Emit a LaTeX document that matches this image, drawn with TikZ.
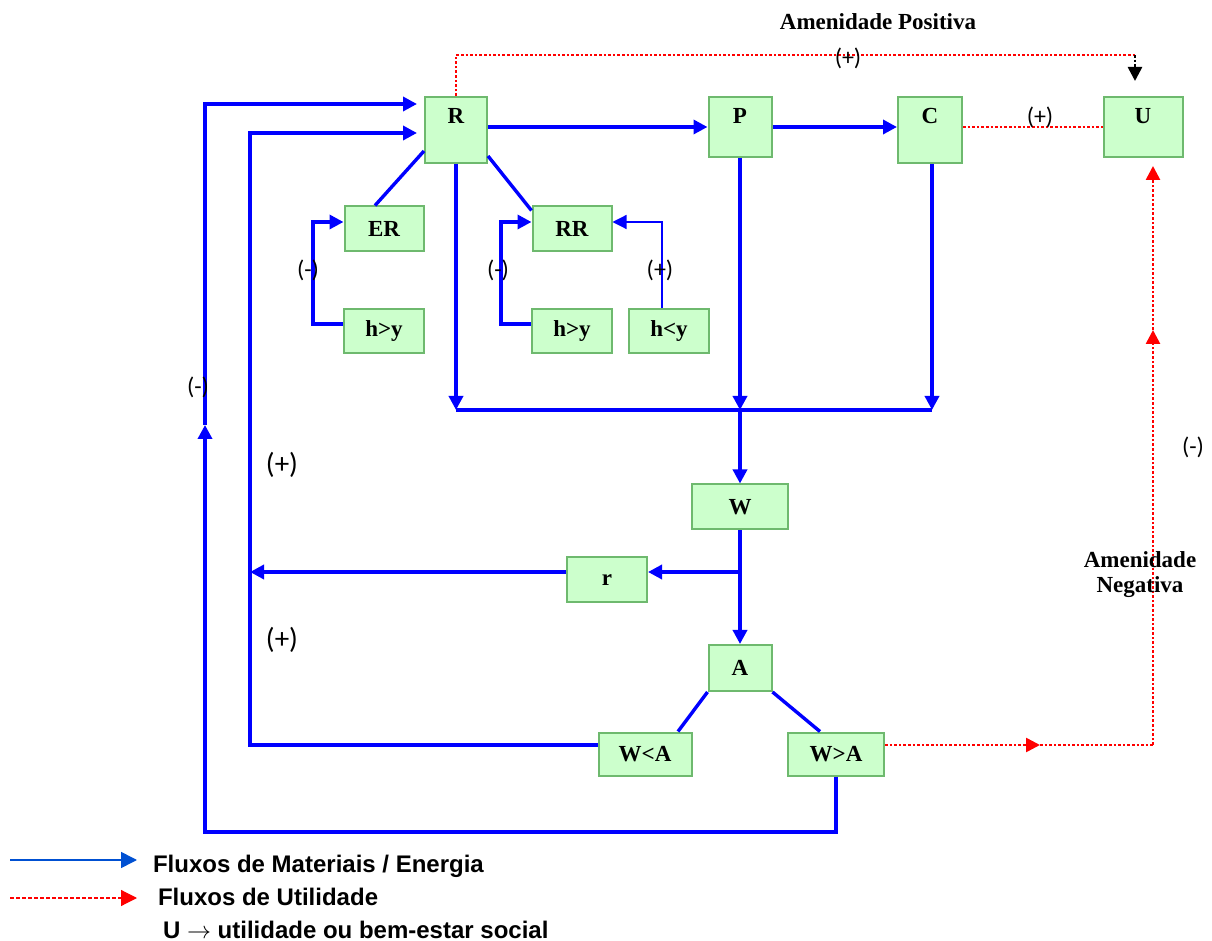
\documentclass[tikz,border=0pt]{standalone}
\usepackage{fontspec}
\setmainfont{Liberation Serif}
\newfontfamily\legendfont{Liberation Sans}
\newfontfamily\signfont{Carlito}
\usepackage{tikz}
\usetikzlibrary{arrows.meta}
\definecolor{boxgreen}{RGB}{204,255,204}
\definecolor{boxline}{RGB}{110,185,110}
\definecolor{legblue}{RGB}{0,80,210}

\begin{document}
\begin{tikzpicture}
  [x=0.5pt,y=-0.5pt,
   every node/.style={font=\bfseries\fontsize{11.5}{13}\selectfont},
   box/.style={draw=boxline,fill=boxgreen,line width=1pt,inner sep=0pt},
   flow/.style={draw=blue,line width=1.7pt},
   tip/.style={-{Triangle[length=7pt,width=7pt]}},
   util/.style={draw=red,densely dotted,line width=1.3pt},
   sign/.style={font=\signfont\fontsize{12}{14}\selectfont},
   bigsign/.style={font=\signfont\fontsize{14.5}{16}\selectfont}]
  \useasboundingbox (0,0) rectangle (1212,941);

  \node[box,minimum width=31pt,minimum height=33pt,text height=8pt,text depth=14pt] (R) at (456,130) {R};
  \node[box,minimum width=31.5pt,minimum height=30pt,text height=8pt,text depth=11pt] (P) at (740,127) {P};
  \node[box,minimum width=32pt,minimum height=33pt,text height=8pt,text depth=14pt] (C) at (930,130) {C};
  \node[box,minimum width=39.5pt,minimum height=30pt,text height=8pt,text depth=11pt] (U) at (1143,127) {U};
  \node[box,minimum width=39.5pt,minimum height=22.5pt] (ER) at (384,229) {ER};
  \node[box,minimum width=39.5pt,minimum height=22.5pt] (RR) at (572,229) {RR};
  \node[box,minimum width=40pt,minimum height=22pt] (hy1) at (384,331) {h>y};
  \node[box,minimum width=40pt,minimum height=22pt] (hy2) at (572,331) {h>y};
  \node[box,minimum width=40pt,minimum height=22pt] (hly) at (669,331) {h<y};
  \node[box,minimum width=48pt,minimum height=22.5pt] (W) at (740,507) {W};
  \node[box,minimum width=40pt,minimum height=22.5pt] (r) at (607,580) {r};
  \node[box,minimum width=31.5pt,minimum height=23pt] (A) at (740,668) {A};
  \node[box,minimum width=46.5pt,minimum height=21.5pt] (WlA) at (645,754) {W<A};
  \node[box,minimum width=48pt,minimum height=21.5pt] (WgA) at (836,754) {W>A};

  \coordinate (ap) at (1135,55);
  \coordinate (jn) at (740,410);
  \coordinate (jr) at (740,572);
  \coordinate (il) at (250,572);
  \coordinate (ob) at (205,832);
  \coordinate (om) at (205,425);
  \coordinate (ot) at (205,104);
  \coordinate (nm) at (1040,745);
  \coordinate (nr) at (1153,745);
  \coordinate (nu) at (1153,330);

  % materials / energy
  \draw[flow,tip] (R.east |- P) -- (P.west);
  \draw[flow,tip] (P.east) -- (C.west |- P);
  \draw[flow] ([yshift=6.5pt]R.south west) -- ([xshift=-4.5pt]ER.north);
  \draw[flow] ([yshift=4pt]R.south east) -- ([yshift=-2.5pt]RR.north west);
  \draw[flow,tip] (R.south) -- (R.south |- jn);
  \draw[flow,tip] (P.south) -- (jn);
  \draw[flow,tip] ([xshift=1pt]C.south) -- ([xshift=1pt]C.south |- jn);
  \draw[flow] (R.south |- jn) -- ([xshift=1pt]C.south |- jn);
  \draw[flow,tip] (jn) -- (W.north);
  \draw[flow,tip] ([yshift=3.5pt]hy1.west) -- ++(-30,0) |- ([yshift=3.5pt]ER.west);
  \draw[flow,tip] ([yshift=3.5pt]hy2.west) -- ++(-30,0) |- ([yshift=3.5pt]RR.west);
  \draw[blue,line width=0.6pt,tip] ([xshift=-3.5pt]hly.north) |- ([yshift=3.5pt]RR.east);
  \draw[flow,tip] (W.south) -- (A.north);
  \draw[flow,tip] (jr) -- ([yshift=4pt]r.east);
  \draw[flow,tip] ([yshift=4pt]r.west) -- (il);
  \draw[flow,tip] ([yshift=4.5pt]WlA.west) -| (il) |- ([xshift=-3.5pt,yshift=-1.5pt]R.west);
  \draw[flow] (A.south west) -- ([xshift=16.5pt]WlA.north);
  \draw[flow] (A.south east) -- ([xshift=-8pt]WgA.north);
  \draw[flow,tip] (WgA.south) |- (ob) -- (om);
  \draw[flow,tip] (om) -- (ot) -- ([xshift=-3.5pt,yshift=13pt]R.west);

  % utility
  \draw[util] (R.north) |- (ap);
  \draw[black,densely dotted,line width=1.3pt,tip] (ap) -- ([yshift=7.5pt]U.north -| ap);
  \draw[util] (C.east |- U) -- (U.west);
  \draw[util,tip] ([yshift=4.5pt]WgA.east) -- (nm);
  \draw[util] (nm) -- (nr);
  \draw[util,tip] (nr) -- (nu);
  \draw[util,tip] (nu) -- ([xshift=5pt,yshift=-4pt]U.south);

  % signs and captions
  \node (apos) at (878,22) {Amenidade Positiva};
  \node[align=center,font=\bfseries\fontsize{11.5}{12.5}\selectfont] (aneg) at (1140,575) {Amenidade\\Negativa};
  \node[sign] (s1) at (848,58) {(+)};
  \node[sign] (s2) at (1040,117) {(+)};
  \node[sign] (s3) at (308,270) {(-)};
  \node[sign] (s4) at (498,270) {(-)};
  \node[sign] (s5) at (660,270) {(+)};
  \node[sign] (s6) at (198,387) {(-)};
  \node[bigsign] (s7) at (282,465) {(+)};
  \node[bigsign] (s8) at (282,640) {(+)};
  \node[sign] (s9) at (1193,447) {(-)};

  % legend
  \coordinate (lb1) at (10,860);
  \coordinate (lb2) at (137,860);
  \coordinate (lr1) at (10,898);
  \coordinate (lr2) at (137,898);
  \draw[legblue,line width=0.8pt,-{Triangle[length=8pt,width=8pt]}] (lb1) -- (lb2);
  \draw[red,dashed,dash pattern=on 2pt off 1pt,line width=0.6pt,-{Triangle[length=8pt,width=8pt]}] (lr1) -- (lr2);
  \node[anchor=west,font=\legendfont\bfseries\fontsize{12}{14}\selectfont] (lgA) at (146,866) {Fluxos de Materiais / Energia};
  \node[anchor=west,font=\legendfont\bfseries\fontsize{12}{14}\selectfont] (lgB) at (151,897) {Fluxos de Utilidade};
  \node[anchor=west,font=\legendfont\bfseries\fontsize{12}{14}\selectfont] (lgC) at (156,930) {U $\rightarrow$ utilidade ou bem-estar social};
\end{tikzpicture}
\end{document}
